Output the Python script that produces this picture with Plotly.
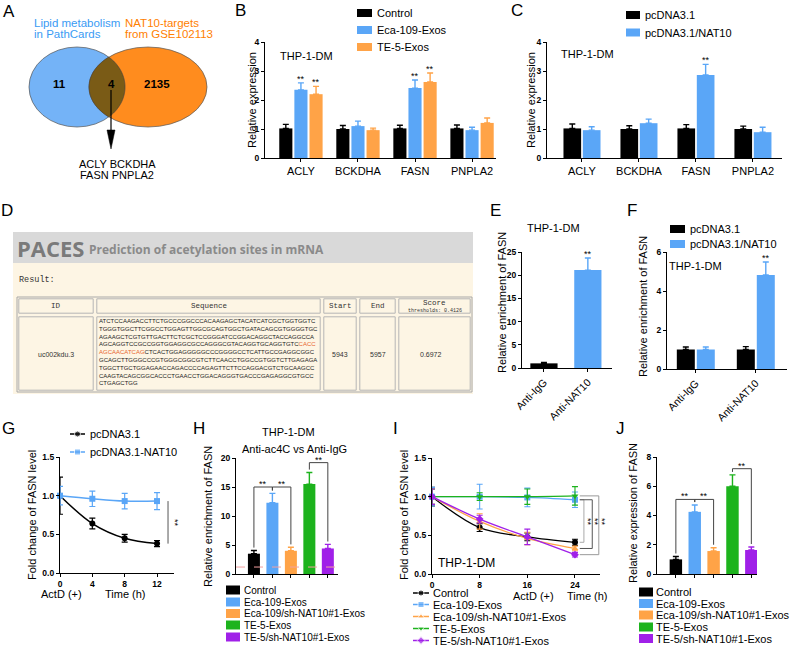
import numpy as np
import plotly.graph_objects as go

W, H = 796, 648
FONT = "Liberation Sans, Arial, sans-serif"
MONO = "Liberation Mono, DejaVu Sans Mono, monospace"
HEAD = "Open Sans, Noto Sans, sans-serif"

BLACK = "#000000"
BLUE = "#5aa6f7"
ORANGE = "#ffa347"
GREEN = "#1db31d"
PURPLE = "#a020e8"
GRP_COLORS = [BLACK, BLUE, ORANGE, GREEN, PURPLE]
GRP_SYMBOLS = ["circle", "square", "triangle-up", "triangle-down", "diamond"]

# ---------------- data ----------------
# A  Venn
venn_left = ["Lipid metabolism", "in PathCards"]
venn_right = ["NAT10-targets", "from GSE102113"]
venn_counts = [11, 4, 2135]
venn_shared = ["ACLY", "BCKDHA", "FASN", "PNPLA2"]

# B
genes = ["ACLY", "BCKDHA", "FASN", "PNPLA2"]
b_names = ["Control", "Eca-109-Exos", "TE-5-Exos"]
b_vals = [[1.02, 1.00, 1.02, 1.02], [2.35, 1.10, 2.41, 0.96], [2.20, 0.96, 2.62, 1.21]]
b_errs = [[0.14, 0.12, 0.11, 0.12], [0.24, 0.17, 0.28, 0.10], [0.27, 0.07, 0.31, 0.17]]
b_sig = [["", "", "", ""], ["**", "", "**", ""], ["**", "", "**", ""]]

# C
c_names = ["pcDNA3.1", "pcDNA3.1/NAT10"]
c_vals = [[1.02, 1.00, 1.02, 1.00], [0.96, 1.20, 2.86, 0.89]]
c_errs = [[0.15, 0.11, 0.13, 0.10], [0.12, 0.14, 0.37, 0.17]]
c_sig = [["", "", "", ""], ["", "", "**", ""]]

# D  PACES result table
paces_id = "uc002kdu.3"
paces_start = 5943
paces_end = 5957
paces_score = 0.6972
paces_threshold = 0.4126
seq_lines = [
    "ATCTCCAAGACCTTCTGCCCGGCCCACAAGAGCTACATCATCGCTGGTGGTC",
    "TGGGTGGCTTCGGCCTGGAGTTGGCGCAGTGGCTGATACAGCGTGGGGTGC",
    "AGAAGCTCGTGTTGACTTCTCGCTCCGGGATCCGGACAGGCTACCAGGCCA",
    "AGCAGGTCCGCCGGTGGAGGCGCCAGGGCGTACAGGTGCAGGTGTC[CACC]",
    "[AGCAACATCAG]CTCACTGGAGGGGGCCCGGGGCCTCATTGCCGAGGCGGC",
    "GCAGCTTGGGCCCGTGGGCGGCGTCTTCAACCTGGCCGTGGTCTTGAGAGA",
    "TGGCTTGCTGGAGAACCAGACCCCAGAGTTCTTCCAGGACGTCTGCAAGCC",
    "CAAGTACAGCGGCACCCTGAACCTGGACAGGGTGACCCGAGAGGCGTGCC",
    "CTGAGCTGG",
]

# E
e_cats = ["Anti-IgG", "Anti-NAT10"]
e_vals = [1.0, 21.1]
e_errs = [0.22, 2.6]
e_sig = ["", "**"]

# F
f_cats = ["Anti-IgG", "Anti-NAT10"]
f_names = ["pcDNA3.1", "pcDNA3.1/NAT10"]
f_vals = [[1.0, 1.0], [1.0, 4.82]]
f_errs = [[0.13, 0.15], [0.13, 0.67]]
f_sig = [["", ""], ["", "**"]]

# G
g_time = [0, 4, 8, 12]
g_names = ["pcDNA3.1", "pcDNA3.1-NAT10"]
g_vals = [[1.0, 0.64, 0.45, 0.38], [1.0, 0.96, 0.93, 0.93]]
g_errs = [[0.24, 0.07, 0.05, 0.04], [0.12, 0.10, 0.10, 0.11]]

# H
grp_names = ["Control", "Eca-109-Exos", "Eca-109/sh-NAT10#1-Exos", "TE-5-Exos", "TE-5/sh-NAT10#1-Exos"]
h_vals = [3.5, 12.3, 4.0, 15.5, 4.4]
h_errs = [0.55, 1.6, 0.6, 2.0, 0.7]
h_igg = 1.2
h_pairs = [(0, 1), (1, 2), (3, 4)]
h_pair_y = [15.0, 15.0, 19.2]

# I
i_time = [0, 8, 16, 24]
i_vals = [[1.0, 0.60, 0.48, 0.41], [1.0, 1.00, 0.99, 0.96], [1.0, 0.68, 0.46, 0.33],
          [1.0, 1.00, 1.00, 1.01], [1.0, 0.71, 0.48, 0.25]]
i_errs = [[0.12, 0.05, 0.05, 0.04], [0.12, 0.16, 0.12, 0.10], [0.10, 0.10, 0.08, 0.03],
          [0.10, 0.05, 0.10, 0.12], [0.10, 0.05, 0.10, 0.03]]
i_pairs = [(1, 0), (1, 2), (3, 4)]

# J
j_vals = [1.0, 4.25, 1.57, 6.0, 1.64]
j_errs = [0.2, 0.47, 0.23, 0.78, 0.21]
j_pairs = [(0, 1), (1, 2), (3, 4)]
j_pair_y = [5.1, 5.1, 7.2]

# ---------------- helpers ----------------
fig = go.Figure()
shapes = []
anns = []


def dx(p0, p1):
    return [p0 / W, p1 / W]


def dy(ptop, pbot):
    return [1 - pbot / H, 1 - ptop / H]


def txt(x, y, s, size=11, color=BLACK, xa="center", ya="middle", angle=0,
        family=FONT, weight="normal", xref="x9", yref="y9", yshift=0):
    anns.append(dict(x=x, y=y, xref=xref, yref=yref, text=s, showarrow=False,
                     xanchor=xa, yanchor=ya, textangle=angle, yshift=yshift,
                     font=dict(size=size, color=color, family=family, weight=weight)))


def rect(x0, y0, x1, y1, fill="rgba(0,0,0,0)", line=None, lw=0, xref="x9", yref="y9"):
    shapes.append(dict(type="rect", xref=xref, yref=yref, x0=x0, y0=y0, x1=x1, y1=y1,
                       fillcolor=fill, line=dict(width=lw, color=line or "rgba(0,0,0,0)"),
                       layer="above"))


def seg(x0, y0, x1, y1, color=BLACK, lw=1, xref="x9", yref="y9", dash="solid"):
    shapes.append(dict(type="line", xref=xref, yref=yref, x0=x0, y0=y0, x1=x1, y1=y1,
                       line=dict(width=lw, color=color, dash=dash), layer="above"))


def axis(**kw):
    base = dict(showline=True, linecolor=BLACK, linewidth=1.2, ticks="outside", ticklen=3,
                tickwidth=1.2, tickcolor=BLACK, showgrid=False, zeroline=False, fixedrange=True,
                ticklabeloverflow="allow", automargin=False,
                tickfont=dict(size=8.5, family=FONT, color=BLACK, weight="bold"))
    base.update(kw)
    return base


def bar_err(err, color):
    return dict(type="data", symmetric=False, array=err, arrayminus=[0] * len(err),
                color=color, thickness=1.4, width=3)


CAT_FONT = dict(size=11, family=FONT, color=BLACK)

# ---------------- A: Venn ----------------
B_E = (77, 87, 48, 40)
O_E = (148, 87, 59, 40)


def ell(cx, cy, rx, ry, n=720):
    t = np.linspace(0, 2 * np.pi, n, endpoint=False)
    return cx + rx * np.cos(t), cy + ry * np.sin(t)


bx, by = ell(*B_E)
ox, oy = ell(*O_E)
in_o = ((bx - O_E[0]) / O_E[2]) ** 2 + ((by - O_E[1]) / O_E[3]) ** 2 <= 1
in_b = ((ox - B_E[0]) / B_E[2]) ** 2 + ((oy - B_E[1]) / B_E[3]) ** 2 <= 1
lx = np.concatenate([bx[in_o], ox[in_b]])
ly = np.concatenate([by[in_o], oy[in_b]])
ang = np.arctan2(ly - ly.mean(), lx - lx.mean())
order = np.argsort(ang)
lens_path = "M " + " L ".join(f"{a:.2f},{b:.2f}" for a, b in zip(lx[order], ly[order])) + " Z"

for (cx, cy, rx, ry), col in [(B_E, "#74b3f7"), (O_E, "#ff8c1e")]:
    shapes.append(dict(type="circle", xref="x9", yref="y9", x0=cx - rx, x1=cx + rx,
                       y0=cy - ry, y1=cy + ry, fillcolor=col,
                       line=dict(color="#555555", width=0.7), layer="above"))
shapes.append(dict(type="path", xref="x9", yref="y9", path=lens_path, fillcolor="#7a5b16",
                   line=dict(color="#444444", width=0.7), layer="above"))

txt(32, 23, venn_left[0], 11.5, "#3a9bf4", xa="left")
txt(32, 34, venn_left[1], 11.5, "#3a9bf4", xa="left")
txt(123, 23, venn_right[0], 11.5, "#ff8000", xa="left")
txt(123, 34, venn_right[1], 11.5, "#ff8000", xa="left")
for xpos, c in zip([59, 111, 157], venn_counts):
    txt(xpos, 84, str(c), 11.5, weight="bold")
seg(111, 90, 111, 132, BLACK, 1.2)
shapes.append(dict(type="path", xref="x9", yref="y9", path="M 107,130 L 115,130 L 111,149 Z",
                   fillcolor=BLACK, line=dict(width=0.5, color=BLACK), layer="above"))
txt(117, 164, " ".join(venn_shared[:2]), 11)
txt(117, 175, " ".join(venn_shared[2:]), 11)

# ---------------- B ----------------
wB, gB = 0.23, 0.035
for s, name in enumerate(b_names):
    c = GRP_COLORS[s]
    off = (s - 1) * (wB + gB)
    fig.add_trace(go.Bar(x=genes, y=b_vals[s], width=[wB] * 4, offset=off - wB / 2,
                         marker=dict(color=c, line=dict(width=0)), error_y=bar_err(b_errs[s], c),
                         xaxis="x", yaxis="y", showlegend=False, name=name))
    for k, sg in enumerate(b_sig[s]):
        if sg:
            txt(k + off, b_vals[s][k] + b_errs[s][k], sg, 9, xref="x", yref="y", ya="bottom", yshift=-3)
for s, name in enumerate(b_names):
    yy = [13, 30, 47][s]
    rect(357, yy - 4, 372, yy + 4, GRP_COLORS[s])
    txt(375, yy, name, 11, xa="left")
txt(306, 56, "THP-1-DM", 11)
txt(252, 100, "Relative expression", 11, angle=-90)

# ---------------- C ----------------
wC, gC = 0.31, 0.03
for s, name in enumerate(c_names):
    c = GRP_COLORS[s]
    off = (s - 0.5) * (wC + gC)
    fig.add_trace(go.Bar(x=genes, y=c_vals[s], width=[wC] * 4, offset=off - wC / 2,
                         marker=dict(color=c, line=dict(width=0)), error_y=bar_err(c_errs[s], c),
                         xaxis="x2", yaxis="y2", showlegend=False, name=name))
    for k, sg in enumerate(c_sig[s]):
        if sg:
            txt(k + off, c_vals[s][k] + c_errs[s][k], sg, 9, xref="x2", yref="y2", ya="bottom", yshift=-3)
for s, name in enumerate(c_names):
    yy = [15, 32.5][s]
    rect(626, yy - 4, 640, yy + 4, GRP_COLORS[s])
    txt(643, yy, name, 11, xa="left")
txt(587, 54, "THP-1-DM", 11)
txt(531, 100, "Relative expression", 11, angle=-90)

# ---------------- D ----------------
rect(13, 232, 473, 263, "#d9d9d9")
rect(13, 263, 473, 394, "#fdf5e4")
txt(15, 248, "PACES", 22, "#7a7a7a", xa="left", family=HEAD, weight="bold")
txt(87, 249, "Prediction of acetylation sites in mRNA", 12, "#8a8a8a", xa="left", family=HEAD, weight="bold")
txt(17, 280, "Result:", 8.5, "#333333", xa="left", family=MONO)
cols = [17, 95, 322, 358, 397, 472]
rows = [297, 315, 392]
rect(cols[0], rows[0], cols[-1], rows[-1], line="#a8a8a8", lw=1)
for r in range(2):
    for cidx in range(5):
        rect(cols[cidx] + 1.8, rows[r] + 1.8, cols[cidx + 1] - 1.8, rows[r + 1] - 1.8,
             line="#b5b5b5", lw=1)
heads = ["ID", "Sequence", "Start", "End"]
for cidx, hname in enumerate(heads):
    txt((cols[cidx] + cols[cidx + 1]) / 2, 306, hname, 7.5, "#333333", family=MONO)
txt((cols[4] + cols[5]) / 2, 303, "Score", 7.5, "#333333", family=MONO)
txt((cols[4] + cols[5]) / 2, 310.5, f"thresholds: {paces_threshold}", 5, "#333333", family=MONO)
seq_html = "<br>".join(l.replace("[", '<span style="color:#e8652e">').replace("]", "</span>") for l in seq_lines)
anns.append(dict(x=96.5, y=316, xref="x9", yref="y9", text=seq_html, showarrow=False,
                 xanchor="left", yanchor="top", align="left",
                 font=dict(size=6.0, family=FONT, color="#222222")))
txt((cols[0] + cols[1]) / 2, 354, paces_id, 7, "#333333")
txt((cols[2] + cols[3]) / 2, 354, str(paces_start), 7, "#333333")
txt((cols[3] + cols[4]) / 2, 354, str(paces_end), 7, "#333333")
txt((cols[4] + cols[5]) / 2 - 4, 354, f"{paces_score:.4f}", 7, "#333333")

# ---------------- E ----------------
wE = 0.62
for k, cat in enumerate(e_cats):
    c = GRP_COLORS[k]
    fig.add_trace(go.Bar(x=[cat], y=[e_vals[k]], width=[wE], offset=-wE / 2,
                         marker=dict(color=c, line=dict(width=0)), error_y=bar_err([e_errs[k]], c),
                         xaxis="x3", yaxis="y3", showlegend=False, name=cat))
    if e_sig[k]:
        txt(k, e_vals[k] + e_errs[k], e_sig[k], 9, xref="x3", yref="y3", ya="bottom", yshift=-3)
txt(553, 228, "THP-1-DM", 11)
txt(502, 303, "Relative enrichment of FASN", 11, angle=-90)

# ---------------- F ----------------
wF, gF = 0.3, 0.033
for s, name in enumerate(f_names):
    c = GRP_COLORS[s]
    off = (s - 0.5) * (wF + gF)
    fig.add_trace(go.Bar(x=f_cats, y=f_vals[s], width=[wF] * 2, offset=off - wF / 2,
                         marker=dict(color=c, line=dict(width=0)), error_y=bar_err(f_errs[s], c),
                         xaxis="x4", yaxis="y4", showlegend=False, name=name))
    for k, sg in enumerate(f_sig[s]):
        if sg:
            txt(k + off, f_vals[s][k] + f_errs[s][k], sg, 9, xref="x4", yref="y4", ya="bottom", yshift=-3)
for s, name in enumerate(f_names):
    yy = [229, 244][s]
    rect(670, yy - 4, 685, yy + 4, GRP_COLORS[s])
    txt(688, yy, name, 11, xa="left")
txt(695, 266, "THP-1-DM", 11)
txt(643, 307, "Relative enrichment of FASN", 11, angle=-90)

# ---------------- G ----------------
for s, name in enumerate(g_names):
    c = GRP_COLORS[s]
    fig.add_trace(go.Scatter(x=g_time, y=g_vals[s], mode="lines+markers",
                             line=dict(color=c, width=1.5, shape="spline"),
                             marker=dict(color=c, size=6, symbol=GRP_SYMBOLS[s]),
                             error_y=dict(type="data", array=g_errs[s], color=c, thickness=1.2, width=3),
                             cliponaxis=False, xaxis="x5", yaxis="y5", showlegend=False, name=name))
    yy = [434, 452][s]
    fig.add_trace(go.Scatter(x=[70, 77.5, 85], y=[yy] * 3, mode="lines+markers",
                             line=dict(color=c, width=1.5),
                             marker=dict(color=c, size=[0, 6, 0], symbol=GRP_SYMBOLS[s]),
                             xaxis="x9", yaxis="y9", showlegend=False, hoverinfo="skip"))
    txt(88, yy, name, 11, xa="left")
seg(13.36, g_vals[1][-1], 13.36, g_vals[0][-1], "#555555", 1, xref="x5", yref="y5")
txt(175, 523, "**", 9, angle=90)
txt(32, 515, "Fold change of FASN level", 11, angle=-90)
txt(61, 594, "ActD (+)", 11)
txt(125, 594, "Time (h)", 11)

# ---------------- H ----------------
wH = 0.65
for k, name in enumerate(grp_names):
    c = GRP_COLORS[k]
    fig.add_trace(go.Bar(x=[name], y=[h_vals[k]], width=[wH], offset=-wH / 2,
                         marker=dict(color=c, line=dict(width=0)), error_y=bar_err([h_errs[k]], c),
                         xaxis="x6", yaxis="y6", showlegend=False, name=name))
shapes.append(dict(type="line", xref="x6 domain", yref="y6", x0=0, x1=1, y0=h_igg, y1=h_igg,
                   line=dict(color="#f2a0a0", width=1, dash="dash"), layer="above"))
for (a, b), ytop in zip(h_pairs, h_pair_y):
    ya_ = h_vals[a] + h_errs[a] + 0.5
    yb_ = h_vals[b] + h_errs[b] + 0.5
    seg(a, ya_, a, ytop, "#444444", 1, "x6", "y6")
    seg(a, ytop, b, ytop, "#444444", 1, "x6", "y6")
    seg(b, ytop, b, yb_, "#444444", 1, "x6", "y6")
    txt((a + b) / 2, ytop, "**", 9, xref="x6", yref="y6", ya="bottom", yshift=-4)
for k, name in enumerate(grp_names):
    yy = [590, 602, 613.5, 625, 637][k]
    rect(226, yy - 4.5, 240, yy + 4.5, GRP_COLORS[k])
    txt(242, yy, name, 10, xa="left")
txt(288, 432, "THP-1-DM", 11)
txt(294, 449, "Anti-ac4C vs Anti-IgG", 11)
txt(208, 517, "Relative enrichment of FASN", 11, angle=-90)

# ---------------- I ----------------
for k, name in enumerate(grp_names):
    c = GRP_COLORS[k]
    fig.add_trace(go.Scatter(x=i_time, y=i_vals[k], mode="lines+markers",
                             line=dict(color=c, width=1.3, shape="spline"),
                             marker=dict(color=c, size=6, symbol=GRP_SYMBOLS[k]),
                             error_y=dict(type="data", array=i_errs[k], color=c, thickness=1.1, width=3),
                             cliponaxis=False, xaxis="x7", yaxis="y7", showlegend=False, name=name))
    yy = [593, 604.5, 616.5, 628.5, 640.5][k]
    fig.add_trace(go.Scatter(x=[413, 421, 429], y=[yy] * 3, mode="lines+markers",
                             line=dict(color=c, width=1.5),
                             marker=dict(color=c, size=[0, 6, 0], symbol=GRP_SYMBOLS[k]),
                             xaxis="x9", yaxis="y9", showlegend=False, hoverinfo="skip"))
    txt(431, yy, name, 11, xa="left")
br_x = [25.5, 26.9, 28.0]
br_col = ["#aaaaaa", "#555555", "#999999"]
for (a, b), xb, cb in zip(i_pairs, br_x, br_col):
    ya_, yb_ = i_vals[a][-1], i_vals[b][-1]
    seg(24.8, ya_, xb, ya_, cb, 1, "x7", "y7")
    seg(xb, ya_, xb, yb_, cb, 1, "x7", "y7")
    seg(24.8, yb_, xb, yb_, cb, 1, "x7", "y7")
for xs in [588, 595, 602]:
    txt(xs, 522, "**", 9, angle=90)
txt(404, 515, "Fold change of FASN level", 11, angle=-90)
txt(436, 563, "THP-1-DM", 12, xa="left")
txt(533, 596, "ActD (+)", 11)
txt(587, 596, "Time (h)", 11)

# ---------------- J ----------------
wJ = 0.66
for k, name in enumerate(grp_names):
    c = GRP_COLORS[k]
    fig.add_trace(go.Bar(x=[name], y=[j_vals[k]], width=[wJ], offset=-wJ / 2,
                         marker=dict(color=c, line=dict(width=0)), error_y=bar_err([j_errs[k]], c),
                         xaxis="x8", yaxis="y8", showlegend=False, name=name))
for (a, b), ytop in zip(j_pairs, j_pair_y):
    ya_ = j_vals[a] + j_errs[a] + 0.2
    yb_ = j_vals[b] + j_errs[b] + 0.2
    seg(a, ya_, a, ytop, "#444444", 1, "x8", "y8")
    seg(a, ytop, b, ytop, "#444444", 1, "x8", "y8")
    seg(b, ytop, b, yb_, "#444444", 1, "x8", "y8")
    txt((a + b) / 2, ytop, "**", 9, xref="x8", yref="y8", ya="bottom", yshift=-4)
for k, name in enumerate(grp_names):
    yy = [592, 603.5, 615, 627, 638.5][k]
    rect(639, yy - 4.5, 653, yy + 4.5, GRP_COLORS[k])
    txt(654, yy, name, 11, xa="left")
txt(633, 513, "Relative expression of FASN", 11, angle=-90)

# ---------------- panel letters ----------------
for L, (xp, yp) in zip("ABCDEFGHIJ", [(9, 11), (240, 10), (517, 10), (7, 210), (495, 210),
                                       (632, 210), (8, 428), (199, 428), (395, 428), (620, 428)]):
    txt(xp, yp, L, 17)

# ---------------- overlay anchor trace ----------------
fig.add_trace(go.Scatter(x=[0], y=[0], mode="markers", marker=dict(size=0, opacity=0),
                         xaxis="x9", yaxis="y9", showlegend=False, hoverinfo="skip"))

# ---------------- axes ----------------
fig.update_layout(
    width=W, height=H, autosize=False, margin=dict(l=0, r=0, t=0, b=0, pad=0),
    paper_bgcolor="white", plot_bgcolor="rgba(0,0,0,0)", showlegend=False,
    barmode="overlay", font=dict(family=FONT, color=BLACK),
    xaxis=axis(domain=dx(265, 496), anchor="y", type="category", categoryorder="array",
               categoryarray=genes, range=[-0.63, 3.42], tickfont=CAT_FONT),
    yaxis=axis(domain=dy(42, 158), anchor="x", range=[0, 4], tickvals=[0, 1, 2, 3, 4]),
    xaxis2=axis(domain=dx(547, 782), anchor="y2", type="category", categoryorder="array",
                categoryarray=genes, range=[-0.614, 3.51], tickfont=CAT_FONT),
    yaxis2=axis(domain=dy(42, 158), anchor="x2", range=[0, 4], tickvals=[0, 1, 2, 3, 4]),
    xaxis3=axis(domain=dx(522, 612), anchor="y3", type="category", categoryorder="array",
                categoryarray=e_cats, range=[-0.5, 1.55], tickangle=-45,
                tickfont=dict(size=10.5, family=FONT, color=BLACK)),
    yaxis3=axis(domain=dy(252, 368), anchor="x3", range=[0, 25], tickvals=[0, 5, 10, 15, 20, 25]),
    xaxis4=axis(domain=dx(667, 787), anchor="y4", type="category", categoryorder="array",
                categoryarray=f_cats, range=[-0.48, 1.52], tickangle=-45,
                tickfont=dict(size=10.5, family=FONT, color=BLACK)),
    yaxis4=axis(domain=dy(252, 369), anchor="x4", range=[0, 6], tickvals=[0, 2, 4, 6]),
    xaxis5=axis(domain=dx(60, 174), anchor="y5", range=[0, 14.1], tickvals=g_time),
    yaxis5=axis(domain=dy(457, 573), anchor="x5", range=[0, 1.5], tickvals=[0, 0.5, 1.0, 1.5],
                tickformat=".1f"),
    xaxis6=axis(domain=dx(236, 338), anchor="y6", type="category", categoryorder="array",
                categoryarray=grp_names, range=[-0.97, 4.55], showticklabels=False),
    yaxis6=axis(domain=dy(458, 574), anchor="x6", range=[0, 20], tickvals=[0, 5, 10, 15, 20]),
    xaxis7=axis(domain=dx(432, 600), anchor="y7", range=[0, 28.2], tickvals=i_time),
    yaxis7=axis(domain=dy(458, 574), anchor="x7", range=[0, 1.5], tickvals=[0, 0.5, 1.0, 1.5],
                tickformat=".1f"),
    xaxis8=axis(domain=dx(657, 757), anchor="y8", type="category", categoryorder="array",
                categoryarray=grp_names, range=[-1.0, 4.3], showticklabels=False),
    yaxis8=axis(domain=dy(457, 574), anchor="x8", range=[0, 8], tickvals=[0, 2, 4, 6, 8]),
    xaxis9=dict(domain=[0, 1], range=[0, W], visible=False, fixedrange=True, anchor="y9"),
    yaxis9=dict(domain=[0, 1], range=[H, 0], visible=False, fixedrange=True, anchor="x9"),
    shapes=shapes, annotations=anns,
)

fig.write_html("out.html", config={"displayModeBar": False},
               post_script="document.body.style.margin='0px';document.body.style.overflow='hidden';")
